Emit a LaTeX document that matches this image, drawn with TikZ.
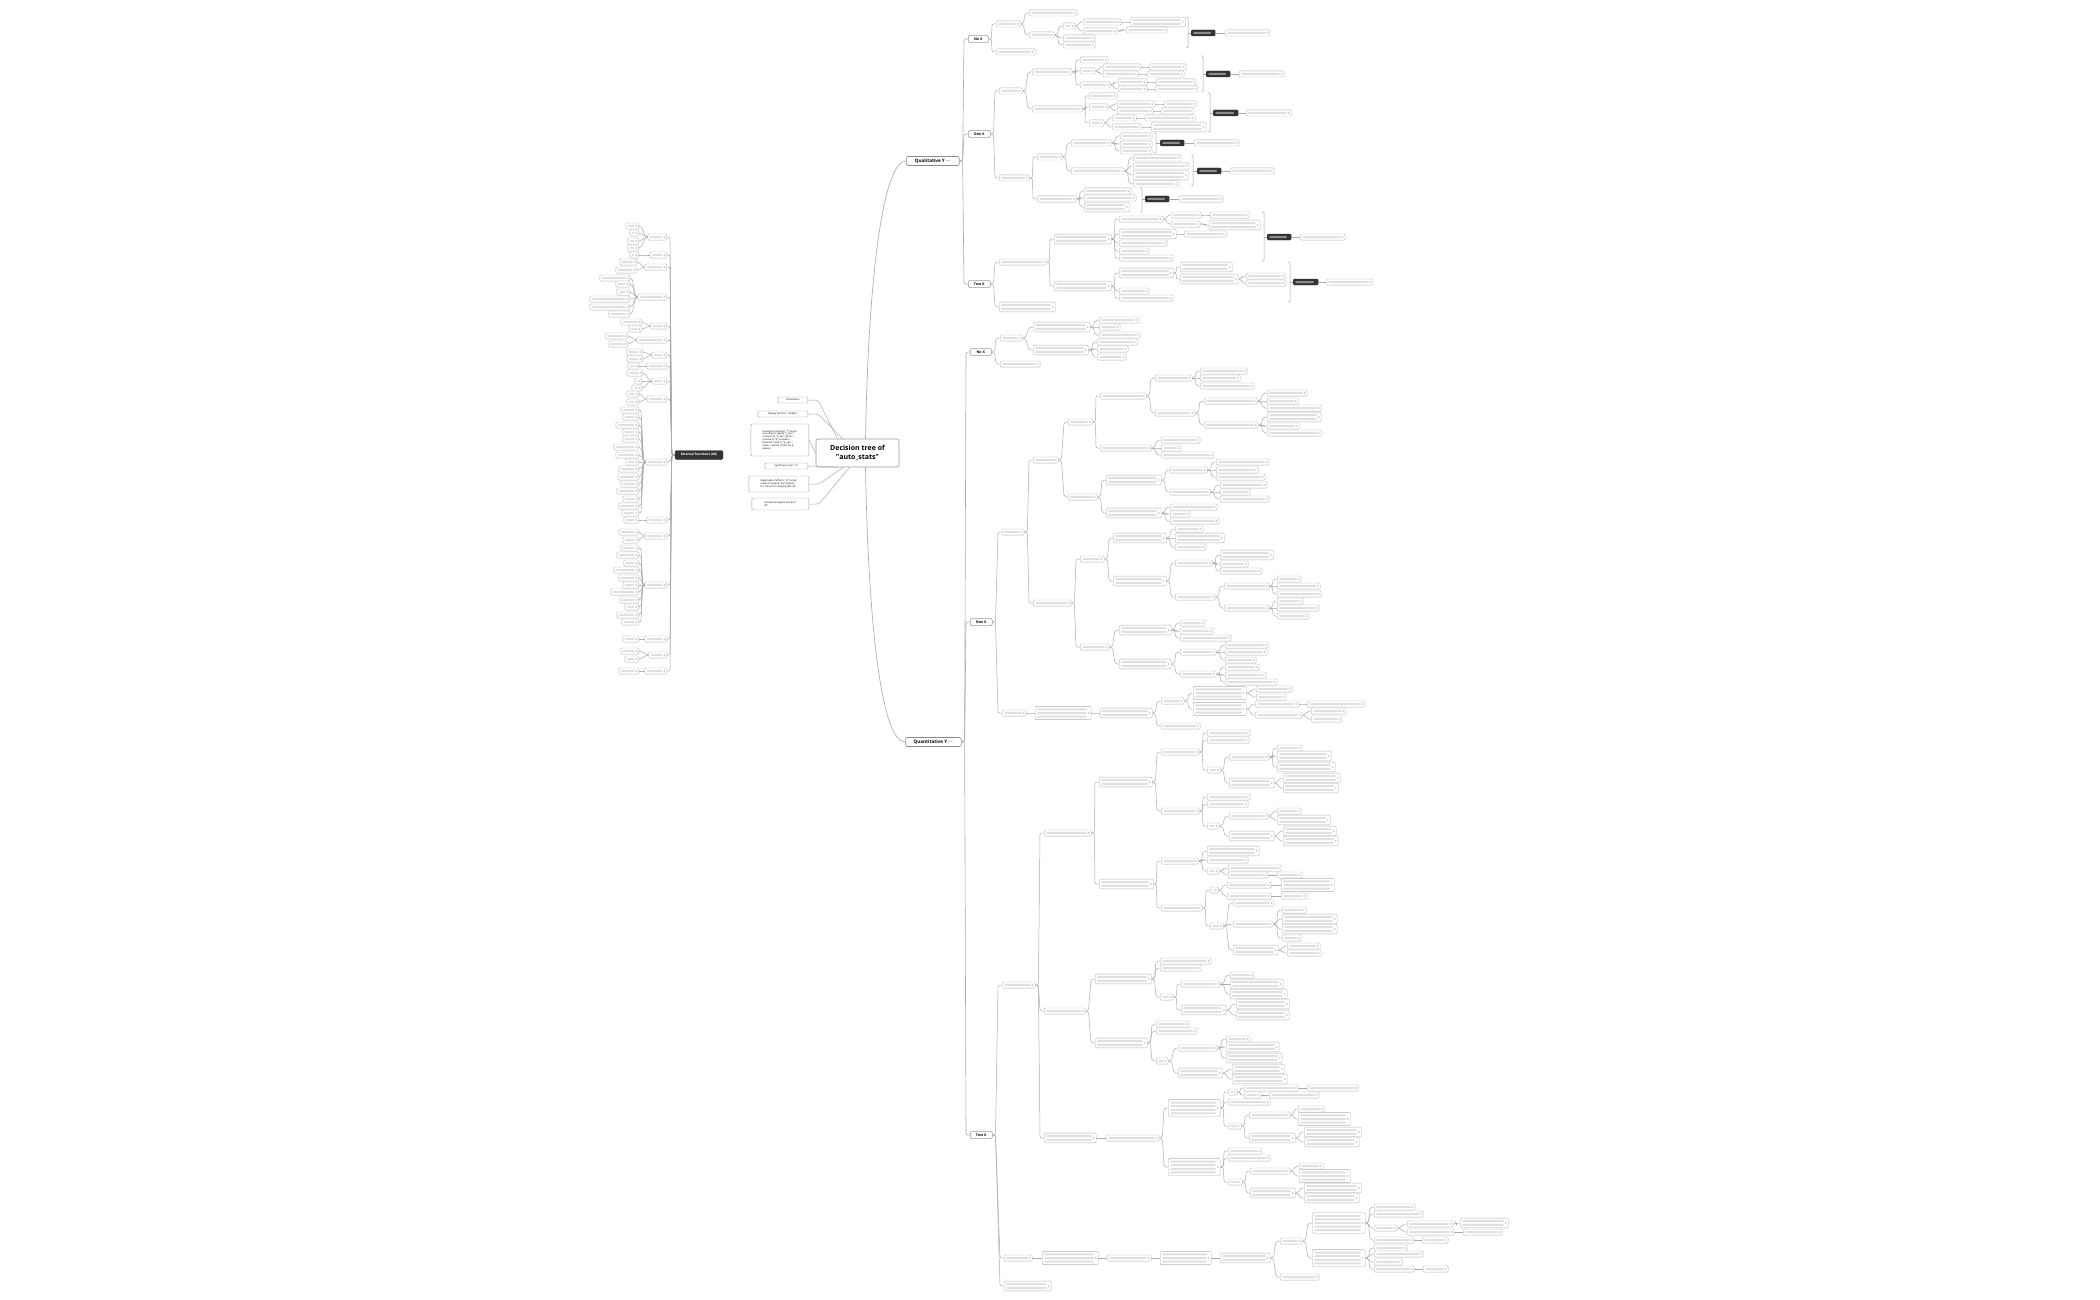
\documentclass[tikz,border=0pt]{standalone}
\usepackage{fontspec}
\setmainfont{Open Sans}

\begin{document}
\begin{tikzpicture}[x=1pt,y=-1pt,
  link/.style={draw=black!33,line width=0.5pt,rounded corners=2pt},
  brk/.style={draw=black!35,line width=0.5pt,rounded corners=1pt},
  leaf/.style={draw=black!30,fill=white,line width=0.4pt,rounded corners=1.2pt,
    anchor=west,inner sep=0pt,minimum height={2.5pt+3.6pt*#1},
    path picture={
      \foreach \i in {1,...,#1}
        \fill[black!12] ([xshift=1.6pt,yshift={-2.05pt-3.6pt*(\i-1)}]path picture bounding box.north west)
          rectangle ([xshift=-4pt,yshift={-4.05pt-3.6pt*(\i-1)}]path picture bounding box.north east);
      \fill[black!25] ([xshift=-3.2pt,yshift=0.8pt]path picture bounding box.east) rectangle ++(1.6pt,-1.6pt);}},
  leaf/.default=1,
  leafl/.style={leaf=#1,anchor=east},
  leafl/.default=1,
  sumbox/.style={fill=black!80,draw=black!80,rounded corners=1.2pt,anchor=west,inner sep=0pt,minimum height=6,
    path picture={\fill[black!45] ([xshift=1.6pt,yshift=-2pt]path picture bounding box.north west)
      rectangle ([xshift=-4pt,yshift=2pt]path picture bounding box.south east);}},
  note/.style={draw=black!35,fill=white,line width=0.45pt,rounded corners=1.2pt,anchor=east,
    align=left,inner sep=1pt,font=\fontsize{2.4}{2.9}\selectfont},
  xbox/.style={draw=black!40,fill=white,line width=0.5pt,rounded corners=1.2pt,anchor=west,
    inner sep=0.8pt,minimum height=7,font=\fontsize{3.6}{4}\selectfont\bfseries},
  ybox/.style={draw=black!45,fill=white,line width=0.6pt,rounded corners=1.5pt,anchor=west,
    inner sep=1pt,minimum height=9,font=\fontsize{4.6}{5}\selectfont\bfseries},
  extbox/.style={fill=black!80,draw=black!80,rounded corners=1.5pt,text=white,inner sep=1pt,
    font=\fontsize{3.2}{3.6}\selectfont\bfseries}]
\useasboundingbox[fill=white] (0,0) rectangle (2100,1300);

% centre
\node[draw=black!40,fill=white,line width=0.6pt,rounded corners=2pt,minimum width=83,minimum height=28,
  align=center,font=\fontsize{7}{8.5}\selectfont\bfseries] (root) at (857.5,453)
  {Decision tree of\\"auto\_stats"};

% notes left of the centre
\node[note,minimum width=30,minimum height=6] (init) at (808,400) {Initialization};
\node[note,minimum width=50,minimum height=6] (disp) at (808,414) {Display function: "display"};
\node[note,minimum width=58,minimum height=32] (fmt) at (809,440)
  {Number formatting: "f" (round\\according to digits), "r\_vav" (\\round to 3), "d\_vav" (same +\\remove 0), "p" (numbers\\between 0 and 1), "p\_vav" (\\same + display <0.001 for p-\\values)};
\node[note,minimum width=43,minimum height=6] (stars) at (808,466) {Significance stars: "s"};
\node[note,minimum width=60,minimum height=16] (magn) at (809,484)
  {Magnitude of effects: "m" (small,\\medium large) \& "me" (specific\\for Cramer's V merging with df)};
\node[note,minimum width=57,minimum height=12] (cond) at (809,504) {Conditional objects function "\\cat"};
\draw[link] (init.east) -- ++(10,0) -- ([xshift=-20pt]root.north);
\draw[link] (disp.east) -- ++(10,0) -- ([xshift=-15pt]root.north);
\draw[link] (fmt.east) -- (root.west);
\draw[link] (stars.east) -- ++(10,0) -- ([xshift=-20pt]root.south);
\draw[link] (magn.east) -- ++(10,0) -- ([xshift=-14pt]root.south);
\draw[link] (cond.east) -- ++(10,0) -- ([xshift=-8pt]root.south);

% the two kinds of Y
\node[ybox,minimum width=53] (qual) at (906,161) {Qualitative Y \textcolor{black!40}{—}};
\node[ybox,minimum width=56] (quant) at (905,742) {Quantitative Y \textcolor{black!40}{—}};
\draw[link,line width=0.65pt] ([xshift=8pt]root.north) .. controls +(3,-170) and +(-22,0) .. (qual.west);
\draw[link,line width=0.65pt] ([xshift=8pt]root.south) .. controls +(3,170) and +(-22,0) .. (quant.west);

% number of X
\foreach \n/\p/\x/\y/\w/\t in {qnx/qual/968/39/20/No X, qox/qual/968/134/22/One X, qtx/qual/968/284/22/Two X,
    dnx/quant/970/352/21/No X, dox/quant/970/622/22/One X, dtx/quant/970/1135/22/Two X}{
  \node[xbox,minimum width=\w] (\n) at (\x,\y) {\t};
  \draw[link,line width=0.6pt] (\p.east) -- ++(3,0) -- ([xshift=-4pt]\n.west) -- (\n.west);
}

% branches (name/parent/x/y/width/lines)
\foreach \n/\p/\x/\y/\w/\k in {
  a1/qnx/996/24/24/1, a2/qnx/996/52/39/1, a11/a1/1029/13/48/1, a12/a1/1029/35/25/1,
  a121/a12/1063/26/12/1, a122/a12/1063/38/32/1, a123/a12/1063/45/32/1,
  a1211/a121/1083/22/38/1, a1212/a121/1083/31/34/1, a12111/a1211/1130/22/55/2, a12121/a1212/1126/30/41/1,
  b1/qox/999/91/23/1, b2/qox/999/178/30/1, b11/b1/1032/72/40/1, b12/b1/1032/109/50/1,
  b111/b11/1080/60/28/1, b112/b11/1080/71/15/1, b113/b11/1080/85/30/1,
  b1121/b112/1103/67/38/1, b1122/b112/1103/74/35/1, b11211/b1121/1149/67/37/1, b11221/b1122/1147/74/37/1,
  b1131/b113/1118/82/29/1, b1132/b113/1118/89/29/1, b11311/b1131/1156/82/40/1, b11321/b1132/1155/89/43/1,
  b121/b12/1089/96/28/1, b122/b12/1089/107/19/1, b123/b12/1089/123/15/1,
  b1221/b122/1117/104/38/1, b1222/b122/1117/111/36/1, b12211/b1221/1164/104/32/1, b12221/b1222/1161/111/32/1,
  b1231/b123/1112/118/24/1, b1232/b123/1112/127/30/1, b12311/b1231/1145/118/50/1, b12321/b1232/1151/127/55/2,
  b21/b2/1037/157/25/1, b22/b2/1037/199/39/1, b211/b21/1071/143/40/1, b212/b21/1071/171/53/1,
  b2111/b211/1120/136/32/1, b2112/b211/1120/144/32/1, b2113/b211/1120/151/32/1,
  b2121/b212/1133/158/48/1, b2122/b212/1133/166/56/1, b2123/b212/1133/175/55/2, b2124/b212/1133/184/46/1,
  b221/b22/1084/191/47/1, b222/b22/1084/198/52/1, b223/b22/1084/207/45/2,
  c1/qtx/999/262/47/1, c2/qtx/999/307/56/2, c11/c1/1054/239/57/2, c12/c1/1054/286/57/2,
  c111/c11/1119/219/44/1, c112/c11/1119/234/57/2, c113/c11/1119/243/48/1, c114/c11/1119/251/30/1, c115/c11/1119/258/54/1,
  c1111/c111/1171/215/30/1, c1112/c111/1171/224/29/1, c11111/c1111/1210/215/39/1, c11121/c1112/1209/225/51/2,
  c1121/c112/1184/234/42/1,
  c121/c12/1119/273/54/2, c122/c12/1119/291/30/1, c123/c12/1119/298/54/1,
  c1211/c121/1180/267/52/2, c1212/c121/1180/279/58/2, c12121/c1212/1246/276/39/1, c12122/c1212/1246/283/40/1,
  d1/dnx/1000/338/22/1, d2/dnx/1000/364/40/1, d11/d1/1033/327/57/2, d12/d1/1033/350/55/2,
  d111/d11/1099/320/40/1, d112/d11/1099/327/21/1, d113/d11/1099/335/41/1,
  d121/d12/1097/342/40/1, d122/d12/1097/349/31/1, d123/d12/1097/357/29/1,
  e1/dox/1002/532/22/1, e2/dox/1002/713/24/1, e11/e1/1033/460/25/1, e12/e1/1033/603/38/1,
  e111/e11/1068/422/24/1, e112/e11/1068/497/29/1, e1111/e111/1100/396/46/1, e1112/e111/1100/448/51/1,
  e11111/e1111/1155/378/37/1, e11112/e1111/1155/413/40/1,
  e111111/e11111/1200/371/47/1, e111112/e11111/1200/378/40/1, e111113/e11111/1200/386/54/1,
  e111121/e11112/1204/401/53/1, e111122/e11112/1204/425/54/1,
  e1111211/e111121/1267/393/40/1, e1111212/e111121/1267/401/31/1, e1111213/e111121/1267/408/54/1,
  e1111221/e111122/1267/417/54/2, e1111222/e111122/1267/426/32/1, e1111223/e111122/1267/433/54/1,
  e11121/e1112/1161/440/39/1, e11122/e1112/1161/448/20/1, e11123/e1112/1161/455/53/1,
  e1121/e112/1106/480/55/2, e1122/e112/1106/513/55/2,
  e11211/e1121/1170/470/37/1, e11212/e1121/1170/492/40/1,
  e112111/e11211/1216/462/53/1, e112112/e11211/1216/470/42/1, e112113/e11211/1216/477/49/1,
  e112121/e11212/1220/485/47/1, e112122/e11212/1220/492/30/1, e112123/e11212/1220/499/49/1,
  e11221/e1122/1170/507/47/1, e11222/e1122/1170/514/20/1, e11223/e1122/1170/521/49/1,
  e121/e12/1080/559/24/1, e122/e12/1080/647/29/1, e1211/e121/1113/538/53/2, e1212/e121/1113/581/53/2,
  e12111/e1211/1175/529/28/1, e12112/e1211/1175/538/49/2, e12113/e1211/1175/547/31/1,
  e12121/e1212/1175/563/37/1, e12122/e1212/1175/597/40/1,
  e121211/e12121/1220/555/53/2, e121212/e12121/1220/564/28/1, e121213/e12121/1220/571/42/1,
  e121221/e12122/1224/586/45/1, e121222/e12122/1224/608/45/1,
  e1212211/e121221/1277/579/24/1, e1212212/e121221/1277/586/43/1, e1212213/e121221/1277/594/44/1,
  e1212221/e121222/1277/601/26/1, e1212222/e121222/1277/608/42/1, e1212223/e121222/1277/616/32/1,
  e1221/e122/1119/630/52/2, e1222/e122/1119/664/52/2,
  e12211/e1221/1180/623/25/1, e12212/e1221/1180/631/33/1, e12213/e1221/1180/638/51/1,
  e12221/e1222/1180/652/36/1, e12222/e1222/1180/674/36/1,
  e122211/e12221/1225/645/43/1, e122212/e12221/1225/652/42/1, e122213/e12221/1225/660/31/1,
  e122221/e12222/1225/667/34/1, e122222/e12222/1225/675/41/1, e122223/e12222/1225/682/52/1,
  e21/e2/1035/713/56/3, e211/e21/1100/713/52/2, e2111/e211/1161/701/23/1, e2112/e211/1161/726/39/1,
  e21111/e2111/1193/693/53/3, e21112/e2111/1193/709/53/3,
  e211111/e21111/1256/689/36/1, e211112/e21111/1256/697/30/1,
  e211121/e21112/1255/704/44/1, e211122/e21112/1255/715/47/1,
  e2111211/e211121/1307/704/57/1, e2111221/e211122/1311/711/35/1, e2111222/e211122/1311/719/31/1,
  f1/dtx/1002/985/33/1, f2/dtx/1004/1258/28/1, f3/dtx/1004/1286/47/2,
  f11/f1/1044/833/47/1, f12/f1/1044/1011/41/1, f13/f1/1044/1138/52/2,
  f111/f11/1099/782/53/2, f112/f11/1099/884/54/2,
  f1111/f111/1161/752/38/1, f1112/f111/1161/811/38/1,
  f11111/f1111/1207/733/43/1, f11112/f1111/1207/740/42/1, f11113/f1111/1207/770/13/1,
  f111131/f11113/1229/757/40/1, f111132/f11113/1229/783/45/2,
  f1111311/f111131/1277/748/25/1, f1111312/f111131/1277/756/54/2, f1111313/f111131/1277/767/58/2,
  f1111321/f111132/1283/778/57/2, f1111322/f111132/1283/788/55/2,
  f11121/f1112/1207/797/43/1, f11122/f1112/1207/804/41/1, f11123/f1112/1207/826/12/1,
  f111231/f11123/1229/816/39/1, f111232/f11123/1229/836/45/2,
  f1112311/f111231/1277/811/24/1, f1112312/f111231/1277/820/53/2,
  f1112321/f111232/1283/831/53/2, f1112322/f111232/1283/841/55/2,
  f1121/f112/1161/861/37/1, f1122/f112/1161/908/41/1,
  f11211/f1121/1207/851/52/2, f11212/f1121/1207/860/41/1, f11213/f1121/1207/871/12/1,
  f112131/f11213/1228/868/53/1, f112132/f11213/1228/875/40/1, f1121321/f112132/1277/875/25/1,
  f11221/f1122/1210/890/8/1, f11222/f1122/1210/926/13/1,
  f112211/f11221/1227/885/44/1, f112212/f11221/1227/896/44/1,
  f1122111/f112211/1281/885/53/3, f1122121/f112212/1281/896/26/1,
  f112221/f11222/1233/903/41/1, f112222/f11222/1233/924/40/1, f112223/f11222/1233/950/45/2,
  f1122221/f112222/1282/910/24/1, f1122222/f112222/1282/919/55/2, f1122223/f112222/1282/929/55/2, f1122224/f112222/1282/938/19/1,
  f1122231/f112223/1287/946/33/1, f1122232/f112223/1287/953/34/1,
  f121/f12/1095/979/56/2, f122/f12/1095/1043/52/2,
  f1211/f121/1160/961/51/1, f1212/f121/1160/968/41/1, f1213/f121/1160/997/13/1,
  f12131/f1213/1181/984/39/1, f12132/f1213/1181/1010/45/2,
  f121311/f12131/1230/975/24/1, f121312/f12131/1230/984/53/2, f121313/f12131/1230/994/57/2,
  f121321/f12132/1236/1004/53/2, f121322/f12132/1236/1015/53/2,
  f1221/f122/1156/1024/33/1, f1222/f122/1156/1031/41/1, f1223/f122/1156/1061/12/1,
  f12231/f1223/1178/1048/39/1, f12232/f1223/1178/1073/44/2,
  f122311/f12231/1226/1039/24/1, f122312/f12231/1226/1047/53/2, f122313/f12231/1226/1058/56/2,
  f122321/f12232/1232/1069/52/2, f122322/f12232/1232/1079/55/2,
  f131/f13/1106/1138/53/1, f1311/f131/1168/1108/52/4, f1312/f131/1168/1167/52/4,
  f13111/f1311/1228/1092/9/1, f13112/f1311/1228/1102/42/1, f13113/f1311/1228/1126/13/1,
  f131111/f13111/1244/1088/54/1, f131112/f13111/1244/1095/17/1,
  f1311111/f131111/1307/1088/51/1, f1311121/f131112/1269/1095/50/1,
  f131131/f13113/1249/1115/41/1, f131132/f13113/1249/1138/46/2,
  f1311311/f131131/1298/1109/26/1, f1311312/f131131/1298/1119/52/3,
  f1311321/f131132/1304/1132/57/2, f1311322/f131132/1304/1142/55/2,
  f13121/f1312/1228/1151/34/1, f13122/f1312/1228/1158/42/1, f13123/f1312/1228/1182/14/1,
  f131231/f13123/1250/1171/40/1, f131232/f13123/1250/1193/45/2,
  f1312311/f131231/1299/1166/24/1, f1312312/f131231/1299/1176/51/3,
  f1312321/f131232/1304/1188/57/2, f1312322/f131232/1304/1198/55/2,
  f21/f2/1042/1258/56/3, f211/f21/1107/1258/44/1, f2111/f211/1160/1258/51/3, f21111/f2111/1220/1258/50/2,
  f211111/f21111/1280/1241/22/1, f211112/f21111/1280/1277/39/1,
  f2111111/f211111/1312/1223/53/5, f2111112/f211111/1312/1258/53/4,
  f21111111/f2111111/1374/1207/41/1, f21111112/f2111111/1374/1214/49/1,
  f21111113/f2111111/1374/1228/23/1, f21111114/f2111111/1374/1240/40/1,
  f211111131/f21111113/1407/1224/46/1, f211111132/f21111113/1407/1232/47/1,
  f2111111311/f211111131/1460/1223/48/2, f2111111321/f211111132/1463/1232/39/1,
  f211111141/f21111114/1422/1240/26/1,
  f21111121/f2111112/1374/1248/33/1, f21111122/f2111112/1374/1254/49/1,
  f21111123/f2111112/1374/1262/28/1, f21111124/f2111112/1374/1269/40/1,
  f211111241/f21111124/1423/1269/25/1}{
  \node[leaf=\k,minimum width=\w] (\n) at (\x,\y) {};
  \draw[link] (\p.east) -- ++(3,0) -- ([xshift=-4pt]\n.west) -- (\n.west);
}

% summaries: bracket, dark topic, note
\foreach \n/\bx/\ya/\yb/\y/\dx/\dw/\lx/\lw in {
  s1/1186/17/48/33/1191/24/1225/45, s2/1201/56/92/74/1206/24/1239/45,
  s3/1208/93/132/113/1213/25/1246/45, s4/1154/133/153/143/1160/24/1194/45,
  s5/1191/155/186/171/1197/24/1230/44, s6/1140/188/212/199/1145/24/1179/44,
  s7/1262/212/261/237/1267/24/1300/45, s8/1288/262/302/282/1293/25/1326/46}{
  \draw[brk] (\bx,\ya) -- ++(2,0) -- ({\bx+2},\yb) -- ++(-2,0);
  \coordinate (\n t) at ({\bx+2},\y);
  \node[sumbox,minimum width=\dw] (\n) at (\dx,\y) {};
  \node[leaf,minimum width=\lw] (\n x) at (\lx,\y) {};
  \draw[link] (\n t) -- (\n.west);
  \draw[link] (\n.east) -- (\n x.west);
}

% external functions (free topic)
\node[extbox,minimum width=48,minimum height=9] (ext) at (699,455) {External functions (\#\#)};
\foreach \n/\y/\w in {g1/237/19, g2/255/17, g3/267/22, g4/297/29, g5/326/16, g6/340/30, g7/355/15,
    g8/366/20, g9/381/15, g10/399/20, g11/462/21, g12/520/20, g13/536/22, g14/585/22,
    g15/639/22, g16/655/18, g17/671/22}{
  \node[leafl,minimum width=\w] (\n) at (667,\y) {};
  \draw[link] (ext.west) -- ++(-3,0) -- ([xshift=3pt]\n.east) -- (\n.east);
}
\foreach \n/\p/\x/\y/\w in {
  h1/g1/639/226/13, h2/g1/639/233/9, h3/g1/639/241/11, h4/g1/639/248/11, h5/g2/639/255/9,
  h6/g3/637/262/17, h7/g3/637/270/21,
  h8/g4/630/278/30, h9/g4/630/284/14, h10/g4/630/292/13, h11/g4/630/299/40, h12/g4/630/307/40, h13/g4/630/314/21,
  h14/g5/642/322/21, h15/g5/642/329/13, h16/g6/628/336/22, h17/g6/628/344/19,
  h18/g7/643/352/16, h19/g7/643/359/16, h20/g8/639/366/11,
  h21/g9/643/373/16, h22/g9/642/381/7, h23/g9/642/388/10, h24/g10/639/394/12, h25/g10/639/402/12,
  h26/g11/639/410/18, h27/g11/639/417/16, h28/g11/639/425/23, h29/g11/639/432/16, h30/g11/639/439/16,
  h31/g11/639/447/25, h32/g11/639/455/23, h33/g11/639/462/13, h34/g11/639/469/20, h35/g11/639/477/21,
  h36/g11/639/484/18, h37/g11/639/491/22, h38/g11/639/499/16, h39/g11/639/506/20, h40/g11/639/513/17,
  h41/g12/639/520/15, h42/g13/639/532/20, h43/g13/639/540/16,
  h44/g14/639/548/18, h45/g14/639/555/22, h46/g14/639/563/15, h47/g14/639/570/25, h48/g14/639/578/20,
  h49/g14/639/585/16, h50/g14/639/592/28, h51/g14/639/600/19, h52/g14/639/607/14, h53/g14/639/615/22,
  h54/g14/639/622/17, h55/g15/639/639/16, h56/g16/639/651/18, h57/g16/639/659/14, h58/g17/639/671/20}{
  \node[leafl,minimum width=\w] (\n) at (\x,\y) {};
  \draw[link] (\p.west) -- ++(-2,0) -- ([xshift=2pt]\n.east) -- (\n.east);
}
\end{tikzpicture}
\end{document}
